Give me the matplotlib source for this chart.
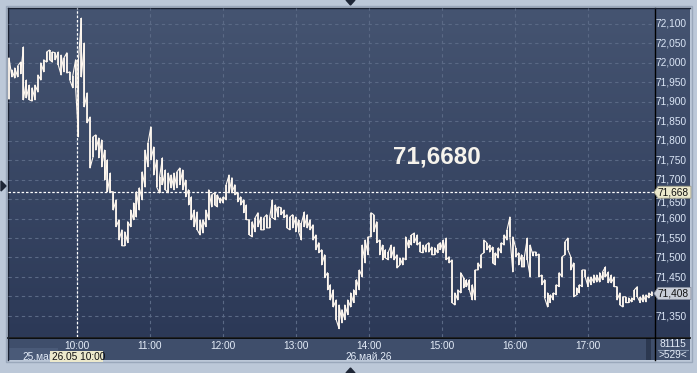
import numpy as np
import matplotlib
matplotlib.use("Agg")
import matplotlib.pyplot as plt
from matplotlib.patches import Rectangle, Polygon

# ---------------- data ----------------
high = [72.013, 71.982, 71.987, 71.992, 72.002, 72.041, 71.956, 71.943, 71.936, 71.943,
        71.969, 72.000, 72.008, 72.028, 72.033, 72.028, 72.026, 72.028, 72.020, 72.013,
        72.026, 71.977, 71.966, 72.008, 72.008, 72.115, 72.051, 71.923, 71.861, 71.810,
        71.815, 71.807, 71.802, 71.776, 71.751, 71.717, 71.669, 71.648, 71.597, 71.571,
        71.566, 71.592, 71.622, 71.640, 71.669, 71.679, 71.720, 71.776, 71.794, 71.836,
        71.784, 71.751, 71.707, 71.756, 71.725, 71.717, 71.712, 71.717, 71.720, 71.730,
        71.725, 71.699, 71.674, 71.656, 71.622, 71.617, 71.597, 71.597, 71.622, 71.674,
        71.661, 71.666, 71.661, 71.653, 71.656, 71.687, 71.712, 71.705, 71.687, 71.666,
        71.656, 71.648, 71.635, 71.597, 71.592, 71.602, 71.615, 71.604, 71.602, 71.610,
        71.602, 71.648, 71.635, 71.630, 71.628, 71.622, 71.610, 71.604, 71.610, 71.604,
        71.597, 71.589, 71.617, 71.610, 71.597, 71.584, 71.558, 71.538, 71.520, 71.507,
        71.461, 71.430, 71.417, 71.391, 71.378, 71.366, 71.378, 71.391, 71.409, 71.417,
        71.443, 71.468, 71.532, 71.545, 71.553, 71.615, 71.610, 71.592, 71.545, 71.532,
        71.520, 71.514, 71.532, 71.527, 71.507, 71.499, 71.499, 71.553, 71.545, 71.558,
        71.563, 71.558, 71.540, 71.532, 71.532, 71.538, 71.527, 71.525, 71.532, 71.538,
        71.545, 71.550, 71.502, 71.494, 71.409, 71.417, 71.461, 71.448, 71.443, 71.443,
        71.430, 71.468, 71.486, 71.507, 71.545, 71.538, 71.532, 71.527, 71.512, 71.525,
        71.538, 71.558, 71.571, 71.604, 71.553, 71.525, 71.512, 71.507, 71.502, 71.550,
        71.532, 71.514, 71.514, 71.509, 71.455, 71.443, 71.409, 71.404, 71.409, 71.430,
        71.461, 71.502, 71.540, 71.550, 71.502, 71.486, 71.422, 71.430, 71.468, 71.468,
        71.450, 71.450, 71.455, 71.455, 71.461, 71.463, 71.476, 71.463, 71.455, 71.450,
        71.425, 71.409, 71.399, 71.399, 71.396, 71.396, 71.417, 71.425, 71.399, 71.404,
        71.404, 71.409, 71.412]
low = [71.907, 71.964, 71.961, 71.964, 71.972, 71.905, 71.910, 71.905, 71.902, 71.905,
       71.925, 71.956, 71.977, 72.002, 72.008, 72.002, 72.008, 71.995, 71.969, 71.977,
       71.974, 71.956, 71.936, 71.936, 71.810, 71.964, 71.887, 71.846, 71.730, 71.758,
       71.776, 71.756, 71.733, 71.699, 71.669, 71.669, 71.622, 71.579, 71.545, 71.530,
       71.530, 71.538, 71.579, 71.597, 71.604, 71.622, 71.648, 71.681, 71.733, 71.751,
       71.712, 71.681, 71.666, 71.687, 71.674, 71.666, 71.679, 71.674, 71.679, 71.687,
       71.674, 71.656, 71.635, 71.597, 71.579, 71.571, 71.558, 71.563, 71.579, 71.597,
       71.630, 71.635, 71.630, 71.640, 71.640, 71.648, 71.666, 71.666, 71.661, 71.643,
       71.635, 71.615, 71.597, 71.558, 71.553, 71.566, 71.579, 71.571, 71.571, 71.576,
       71.576, 71.602, 71.597, 71.604, 71.610, 71.602, 71.576, 71.571, 71.576, 71.566,
       71.566, 71.545, 71.579, 71.576, 71.571, 71.545, 71.520, 71.512, 71.481, 71.448,
       71.417, 71.391, 71.373, 71.340, 71.317, 71.332, 71.340, 71.353, 71.373, 71.384,
       71.404, 71.417, 71.450, 71.486, 71.507, 71.553, 71.566, 71.538, 71.507, 71.494,
       71.499, 71.494, 71.499, 71.494, 71.473, 71.481, 71.481, 71.494, 71.525, 71.532,
       71.538, 71.532, 71.514, 71.512, 71.514, 71.514, 71.507, 71.507, 71.512, 71.520,
       71.512, 71.494, 71.486, 71.384, 71.378, 71.391, 71.409, 71.422, 71.425, 71.417,
       71.391, 71.391, 71.468, 71.473, 71.512, 71.520, 71.514, 71.486, 71.481, 71.499,
       71.512, 71.532, 71.545, 71.553, 71.463, 71.502, 71.481, 71.476, 71.476, 71.494,
       71.450, 71.504, 71.504, 71.450, 71.430, 71.396, 71.373, 71.384, 71.391, 71.404,
       71.425, 71.450, 71.507, 71.520, 71.468, 71.399, 71.404, 71.409, 71.425, 71.450,
       71.425, 71.430, 71.435, 71.437, 71.437, 71.443, 71.450, 71.435, 71.435, 71.425,
       71.391, 71.378, 71.373, 71.384, 71.384, 71.386, 71.391, 71.399, 71.384, 71.386,
       71.386, 71.396, 71.402]
# bar times, minutes after 09:00 (first bar 09:04:06, last bar 17:52:30)
first_bar_min = 4.1
last_bar_min = 532.5
hour_ticks = [60, 120, 180, 240, 300, 360, 420, 480]
hour_labels = ["10:00", "11:00", "12:00", "13:00", "14:00", "15:00", "16:00", "17:00"]
price_ticks = [72.10, 72.05, 72.00, 71.95, 71.90, 71.85, 71.80, 71.75, 71.70,
               71.65, 71.60, 71.55, 71.50, 71.45, 71.40, 71.35]
cursor_price = 71.668
cursor_time = 60
last_price = 71.408
big_label = "71,6680"
bars_count = "81115"
visible_bars = ">529<"

times = np.linspace(first_bar_min, last_bar_min, len(high))

# ---------------- layout ----------------
W, H = 697, 373
fig = plt.figure(figsize=(W / 100, H / 100), dpi=100)
fig.patch.set_facecolor("#bcc8d8")

def box(x0, y0, x1, y1):
    return [x0 / W, 1 - y1 / H, (x1 - x0) / W, (y1 - y0) / H]

FONT = "Liberation Sans"

# background layer in pixel coordinates
bg = fig.add_axes([0, 0, 1, 1])
bg.set_xlim(0, W)
bg.set_ylim(H, 0)
bg.axis("off")
bg.add_patch(Rectangle((6, 6), 686, 356, facecolor="none", edgecolor="#9aa8bb", lw=1))
grad = np.linspace(0, 1, 256)[:, None]
top_c = np.array([0x45, 0x54, 0x71]) / 255
bot_c = np.array([0x2c, 0x39, 0x57]) / 255
img = top_c[None, None, :] * (1 - grad[..., None]) + bot_c[None, None, :] * grad[..., None]
img = np.repeat(img, 2, axis=1)
bg.imshow(img, extent=(8, 690, 337, 8), aspect="auto", zorder=0)
bg.add_patch(Rectangle((8, 338), 682, 22, facecolor="#3f4e6b", edgecolor="none", zorder=1))
bg.add_patch(Rectangle((8, 348), 50, 12, facecolor="#4a5a78", edgecolor="none", zorder=1))
bg.add_patch(Rectangle((646, 338), 5, 22, facecolor="#2c3850", edgecolor="none", zorder=1))
bg.plot([8, 690], [337.5, 337.5], color="black", lw=1.2, zorder=2)
bg.plot([654.5, 654.5], [8, 360], color="black", lw=1.0, zorder=2)
bg.plot([8, 690], [8, 8], color="#1a2233", lw=1.0, zorder=2)
bg.plot([8, 8], [8, 360], color="#1a2233", lw=1.0, zorder=2)
bg.plot([658, 688], [349.5, 349.5], color="#8090a8", lw=0.8, zorder=2)
bg.add_patch(Polygon([[346, 0], [355, 0], [350.5, 5]], color="#1e2636", zorder=3))
bg.add_patch(Polygon([[346, 373], [355, 373], [350.5, 368]], color="#1e2636", zorder=3))
bg.add_patch(Polygon([[1, 181], [1, 191], [6, 186]], color="#1e2636", zorder=3))

# ---------------- main chart ----------------
ax = fig.add_axes(box(8, 8, 654, 337))
ax.patch.set_alpha(0)
ax.set_xlim(3.28, 534.3)
ax.set_ylim(71.2957, 72.1410)
for s in ax.spines.values():
    s.set_visible(False)
ax.set_xticks([])
ax.set_yticks([])

grid_c = "#5a6985"
for p in price_ticks:
    ax.axhline(p, color=grid_c, lw=0.8, ls=(0, (3, 3)), zorder=1)
for t in hour_ticks:
    ax.axvline(t, color=grid_c, lw=0.8, ls=(0, (3, 3)), zorder=1)

ax.axvline(cursor_time, color="white", lw=0.9, ls=(0, (2, 1.5)), zorder=2)
ax.axhline(cursor_price, color="white", lw=0.9, ls=(0, (2, 1.5)), zorder=2)

hi = np.array(high)
lo = np.array(low)
mid = (hi + lo) / 2
xs, ys = [], []
for i in range(len(hi)):
    nxt = mid[i + 1] if i + 1 < len(mid) else mid[i]
    pair = (lo[i], hi[i]) if nxt >= mid[i] else (hi[i], lo[i])
    xs += [times[i], times[i]]
    ys += list(pair)
ax.plot(xs, ys, color="#fff8f0", lw=0.8, zorder=3)
ax.vlines(times, lo, hi, color="#fff8f0", lw=1.2, zorder=3)

fig.text(437 / W, 1 - 157 / H, big_label, color="#f6f3ec", fontsize=17.5,
         fontweight="bold", family=FONT, ha="center", va="center")

# ---------------- right price axis labels ----------------
def price_to_y(p):
    return 24 + (72.100 - p) / 0.05 * 19.47

def fmt(p):
    return f"{p:.3f}".replace(".", ",")

for p in price_ticks:
    y = price_to_y(p)
    if abs(y - price_to_y(cursor_price)) < 7.5 or abs(y - price_to_y(last_price)) < 7.5:
        continue
    bg.text(656, y, fmt(p), color="#dbe6f6", fontsize=7.3, family=FONT,
            ha="left", va="center", zorder=4)

yc = price_to_y(cursor_price)
bg.add_patch(Polygon([[654, yc], [658, yc - 6], [691, yc - 6], [691, yc + 6], [658, yc + 6]],
                     facecolor="#ece9cc", edgecolor="#9a9a88", lw=0.6, zorder=5))
bg.text(658, yc + 0.5, fmt(cursor_price), color="#111111", fontsize=7.3, family=FONT,
        ha="left", va="center", zorder=6)
yl = price_to_y(last_price)
bg.add_patch(Polygon([[654, yl], [658, yl - 6], [691, yl - 6], [691, yl + 6], [658, yl + 6]],
                     facecolor="#c9ced8", edgecolor="#8a90a0", lw=0.6, zorder=5))
bg.text(658, yl + 0.5, fmt(last_price), color="#111111", fontsize=7.3, family=FONT,
        ha="left", va="center", zorder=6)
# partially hidden tick labels next to the boxes (as in the reference)
for p in price_ticks:
    y = price_to_y(p)
    if 7.5 > abs(y - yc) > 6 :
        bg.text(656, y + 3, fmt(p), color="#dbe6f6", fontsize=7.3, family=FONT,
                ha="left", va="center", zorder=4)

# ---------------- bottom time axis labels ----------------
def time_to_x(t):
    return 77 + (t - 60) / 0.8219

for t, lab in zip(hour_ticks, hour_labels):
    bg.text(time_to_x(t), 346, lab, color="#e4ecf8", fontsize=7.3, family=FONT,
            ha="center", va="center", zorder=4)
bg.text(22, 357, "25.май", color="#e4ecf8", fontsize=7.3, family=FONT,
        ha="left", va="center", zorder=4)
bg.text(345, 357.5, "26.май.26", color="#e4ecf8", fontsize=7.3, family=FONT,
        ha="left", va="center", zorder=4)
bg.add_patch(Rectangle((50, 351), 53, 11, facecolor="#ece9cc", edgecolor="none", zorder=5))
bg.text(52, 357, "26.05 10:00", color="#111111", fontsize=7.3, family=FONT,
        ha="left", va="center", zorder=6)
bg.text(673, 344, bars_count, color="#e4ecf8", fontsize=7.3, family=FONT,
        ha="center", va="center", zorder=4)
bg.text(673, 355.5, visible_bars, color="#e4ecf8", fontsize=7.3, family=FONT,
        ha="center", va="center", zorder=4)

fig.savefig("out.png", dpi=100, facecolor=fig.get_facecolor())
